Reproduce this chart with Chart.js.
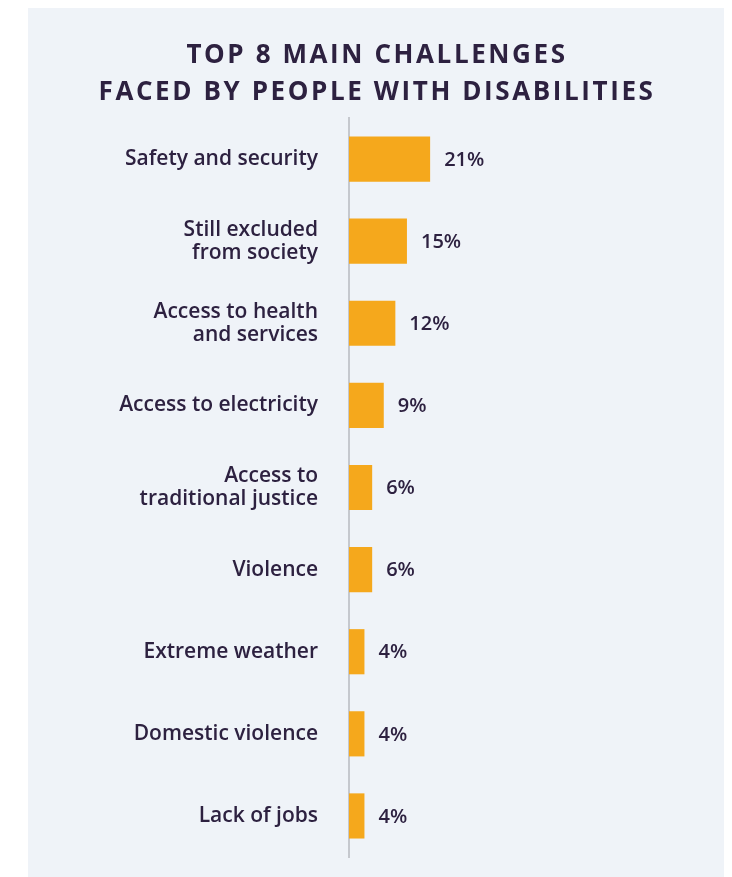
<!DOCTYPE html>
<html>
<head>
<meta charset="utf-8">
<script src="https://cdn.jsdelivr.net/npm/chart.js@4"></script>
<style>
  html, body { margin: 0; padding: 0; background: #ffffff; }
  #panel { position: absolute; left: 28px; top: 8px; width: 696px; height: 869px; background: #eff3f8; }
  #myChart { position: absolute; left: 0; top: 0; }
</style>
</head>
<body>
<div id="panel"></div>
<canvas id="myChart" width="732" height="877"></canvas>
<script>
const challenges = [
    'Safety and security',
    ['Still excluded', 'from society'],
    ['Access to health', 'and services'],
    'Access to electricity',
    ['Access to', 'traditional justice'],
    'Violence',
    'Extreme weather',
    'Domestic violence',
    'Lack of jobs'
];
const shares = [21, 15, 12, 9, 6, 6, 4, 4, 4];
const titleLines = ['TOP 8 MAIN CHALLENGES', 'FACED BY PEOPLE WITH DISABILITIES'];

const purple = '#2d2140';
const orange = '#f5a81c';

// title drawn by hand so it can have the wide letter spacing of the original
const spacedTitle = {
    id: 'spacedTitle',
    afterDraw(chart) {
        const ctx = chart.ctx;
        ctx.save();
        ctx.font = 'bold 26px "Open Sans"';
        ctx.letterSpacing = '2.6px';
        ctx.fillStyle = purple;
        ctx.textAlign = 'center';
        ctx.textBaseline = 'alphabetic';
        ctx.fillText(titleLines[0], 377, 63);
        ctx.fillText(titleLines[1], 377, 100);
        ctx.restore();
    }
};

// writes "21%" etc. just right of each bar
const valueLabels = {
    id: 'valueLabels',
    afterDatasetsDraw(chart) {
        const ctx = chart.ctx;
        const meta = chart.getDatasetMeta(0);
        ctx.save();
        ctx.font = '600 20px "Open Sans"';
        ctx.fillStyle = purple;
        ctx.textAlign = 'left';
        ctx.textBaseline = 'middle';
        meta.data.forEach((bar, i) => {
            ctx.fillText(shares[i] + '%', bar.x + 14, bar.y + 1);
        });
        ctx.restore();
    }
};

var ctx = document.getElementById('myChart').getContext('2d');
new Chart(ctx, {
    type: 'bar',
    data: {
        labels: challenges,
        datasets: [{
            data: shares,
            backgroundColor: orange,
            borderWidth: 0,
            barPercentage: 0.55,
            categoryPercentage: 1
        }]
    },
    options: {
        indexAxis: 'y',
        responsive: false,
        animation: false,
        layout: { padding: { left: 0, right: 16, top: 118, bottom: 20 } },
        plugins: {
            legend: { display: false },
            tooltip: { enabled: false },
            title: { display: false }
        },
        scales: {
            x: {
                display: false,
                min: 0,
                max: 95
            },
            y: {
                grid: { display: false, drawTicks: false },
                border: { display: true, color: '#c5c8ce', width: 2 },
                ticks: {
                    color: purple,
                    padding: 31,
                    font: { family: '"Open Sans"', size: 21, weight: '600', lineHeight: 1.1 }
                },
                afterFit(scale) {
                    scale.width = 349;
                    scale.paddingTop = 0;
                    scale.paddingBottom = 0;
                }
            }
        }
    },
    plugins: [valueLabels, spacedTitle]
});
</script>
</body>
</html>
